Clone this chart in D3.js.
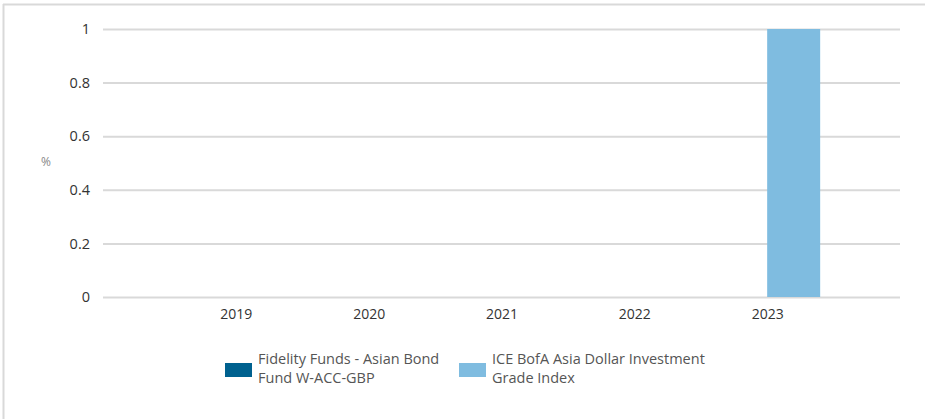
<!DOCTYPE html>
<html><head><meta charset="utf-8">
<script src="https://cdn.jsdelivr.net/npm/d3@7"></script>
<style>
html,body{margin:0;padding:0;background:#fff;}
svg{display:block;}
text{font-family:"Open Sans","DejaVu Sans",sans-serif;}
</style></head>
<body>
<svg id="chart" width="925" height="419"></svg>
<script>
const categories = ["2019","2020","2021","2022","2023"];
const seriesNames = ["Fidelity Funds - Asian Bond Fund W-ACC-GBP","ICE BofA Asia Dollar Investment Grade Index"];
const fundValues = [0,0,0,0,0];
const indexValues = [0,0,0,0,1];
const yTicks = [0,0.2,0.4,0.6,0.8,1];
const colors = ["#00618f","#7fbce0"];
const legendLines = [["Fidelity Funds - Asian Bond","Fund W-ACC-GBP"],["ICE BofA Asia Dollar Investment","Grade Index"]];

(function(){
const svg = d3.select("#chart");
// frame
svg.append("line").attr("x1",3).attr("x2",925).attr("y1",4.5).attr("y2",4.5).attr("stroke","#d9d9d9").attr("stroke-width",2);
svg.append("line").attr("x1",3.5).attr("x2",3.5).attr("y1",4).attr("y2",419).attr("stroke","#d9d9d9").attr("stroke-width",2);

const pLeft=103,pRight=900,pTop=29,pBottom=297;
const x = d3.scalePoint().domain(categories).range([pLeft,pRight]).padding(1);
const y = d3.scaleLinear().domain([0,1]).range([pBottom,pTop]);
const inner = d3.scaleBand().domain([0,1]).range([-53,53]).padding(0);

// gridlines
const yAxis = d3.axisLeft(y).tickValues(yTicks).tickSize(-(pRight-pLeft)).tickFormat(d=>String(d)).tickPadding(13);
const ga = svg.append("g").attr("transform",`translate(${pLeft},0)`).call(yAxis);
ga.select(".domain").remove();
ga.selectAll(".tick line").attr("stroke","#d9d9d9").attr("stroke-width",2);
ga.selectAll(".tick text").attr("fill","#333").attr("font-size",14.5);

// % label
svg.append("text").attr("x",46).attr("y",166).attr("text-anchor","middle").attr("fill","#888").attr("font-size",12).text("%");

// bars
const data = categories.map((c,i)=>({c,vals:[fundValues[i],indexValues[i]]}));
const groups = svg.append("g").selectAll("g").data(data).join("g").attr("transform",d=>`translate(${x(d.c)},0)`);
groups.selectAll("rect").data(d=>d.vals.map((v,k)=>({v,k}))).join("rect")
  .attr("x",d=>inner(d.k)).attr("width",inner.bandwidth())
  .attr("y",d=>y(d.v)).attr("height",d=>pBottom-y(d.v)).attr("fill",d=>colors[d.k]);

// x axis labels
const xAxis = d3.axisBottom(x).tickSize(0).tickPadding(12);
const gx = svg.append("g").attr("transform",`translate(0,${pBottom})`).call(xAxis);
gx.select(".domain").remove();
gx.selectAll(".tick text").attr("fill","#333").attr("font-size",14);

// legend
const legX=[225,459];
seriesNames.forEach((n,i)=>{
  const g = svg.append("g").attr("transform",`translate(${legX[i]},0)`);
  g.append("rect").attr("x",0).attr("y",363).attr("width",27).attr("height",14).attr("fill",colors[i]);
  const t = g.append("text").attr("x",33).attr("y",364).attr("fill","#555").attr("font-size",14.5);
  legendLines[i].forEach((l,j)=>t.append("tspan").attr("x",33).attr("dy",j?19:0).text(l));
});
})();
</script>
</body></html>
